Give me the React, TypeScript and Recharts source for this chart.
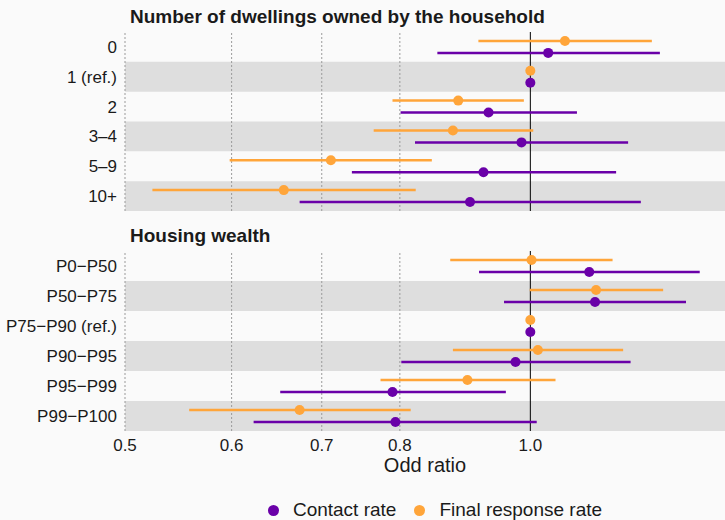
import React from 'react';
import {
  ScatterChart, Scatter, XAxis, YAxis, ErrorBar, ReferenceArea, ReferenceLine,
} from 'recharts';

const dwellLabels = ['0', '1 (ref.)', '2', '3–4', '5–9', '10+'];
const dwellContact = [1.031, 1.0, 0.931, 0.985, 0.923, 0.902];
const dwellContactLo = [0.853, 1.0, 0.801, 0.821, 0.737, 0.674];
const dwellContactHi = [1.248, 1.0, 1.083, 1.182, 1.158, 1.208];
const dwellResponse = [1.061, 1.0, 0.884, 0.876, 0.711, 0.656];
const dwellResponseLo = [0.915, 1.0, 0.79, 0.765, 0.598, 0.524];
const dwellResponseHi = [1.231, 1.0, 0.989, 1.005, 0.845, 0.822];

const wealthLabels = ['P0−P50', 'P50−P75', 'P75−P90 (ref.)', 'P90−P95', 'P95−P99', 'P99−P100'];
const wealthContact = [1.106, 1.117, 1.0, 0.975, 0.79, 0.794];
const wealthContactLo = [0.916, 0.956, 1.0, 0.802, 0.652, 0.623];
const wealthContactHi = [1.336, 1.305, 1.0, 1.187, 0.959, 1.011];
const wealthResponse = [1.002, 1.119, 1.0, 1.013, 0.898, 0.674];
const wealthResponseLo = [0.872, 0.999, 1.0, 0.876, 0.774, 0.558];
const wealthResponseHi = [1.151, 1.255, 1.0, 1.172, 1.044, 0.815];

const xTicks = [0.5, 0.6, 0.7, 0.8, 1.0];
const gridTicks = [0.5, 0.6, 0.7, 0.8];
const seriesNames = ['Contact rate', 'Final response rate'];

const PURPLE = '#6a00a8';
const ORANGE = '#ffa53a';
const TEXT = '#1a1a1a';
const FONT = '"Liberation Sans", Arial, sans-serif';
const X_DOMAIN: [number, number] = [0.5, 1.395];

function build(est: number[], lo: number[], hi: number[], dodge: number) {
  return est.map((v, i) => ({
    x: v,
    y: i + 1 + dodge,
    err: [v - lo[i], hi[i] - v],
  }));
}

const dot = (color: string) => (props: any) => (
  <circle cx={props.cx} cy={props.cy} r={5} fill={color} />
);

function Panel(props: {
  labels: string[];
  contact: number[]; contactLo: number[]; contactHi: number[];
  response: number[]; responseLo: number[]; responseHi: number[];
  height: number; top: number; bottom: number; showX: boolean;
}) {
  const contactData = build(props.contact, props.contactLo, props.contactHi, 0.2);
  const responseData = build(props.response, props.responseLo, props.responseHi, -0.2);
  const n = props.labels.length;
  const rows = props.labels.map((_, i) => i + 1);
  return (
    <ScatterChart
      width={725}
      height={props.height}
      margin={{ top: props.top, right: 0, bottom: props.bottom, left: 0 }}
    >
      <XAxis
        type="number"
        dataKey="x"
        scale="log"
        domain={X_DOMAIN}
        allowDataOverflow
        ticks={xTicks}
        tickFormatter={(v: number) => v.toFixed(1)}
        axisLine={false}
        tickLine={false}
        hide={!props.showX}
        height={89}
        tick={{ fill: TEXT, fontSize: 17, fontFamily: FONT }}
        label={{ value: 'Odd ratio', position: 'insideTop', offset: 27, fill: TEXT, fontSize: 20, fontFamily: FONT }}
      />
      <YAxis
        type="number"
        dataKey="y"
        domain={[0.5, n + 0.5]}
        reversed
        ticks={rows}
        interval={0}
        tickFormatter={(v: number) => props.labels[v - 1] ?? ''}
        axisLine={false}
        tickLine={false}
        width={125}
        tick={{ fill: TEXT, fontSize: 17, fontFamily: FONT }}
      />
      {rows.filter((r) => r % 2 === 0).map((r) => (
        <ReferenceArea key={'b' + r} y1={r - 0.5} y2={r + 0.5} fill="#dedede" fillOpacity={1} stroke="none" />
      ))}
      {gridTicks.map((t) => (
        <ReferenceLine key={'g' + t} x={t} stroke="#9a9a9a" strokeDasharray="2 2" strokeWidth={1} />
      ))}
      <ReferenceLine x={1} stroke="#000" strokeWidth={1} />
      <Scatter name={seriesNames[0]} data={contactData} fill={PURPLE} shape={dot(PURPLE)} isAnimationActive={false}>
        <ErrorBar dataKey="err" direction="x" width={0} stroke={PURPLE} strokeWidth={2.5} isAnimationActive={false} />
      </Scatter>
      <Scatter name={seriesNames[1]} data={responseData} fill={ORANGE} shape={dot(ORANGE)} isAnimationActive={false}>
        <ErrorBar dataKey="err" direction="x" width={0} stroke={ORANGE} strokeWidth={2.5} isAnimationActive={false} />
      </Scatter>
    </ScatterChart>
  );
}

export default function App() {
  const titleStyle: React.CSSProperties = {
    position: 'absolute', left: 130, fontWeight: 'bold', fontSize: 19,
    color: TEXT, fontFamily: FONT, lineHeight: '22px', whiteSpace: 'nowrap',
  };
  return (
    <div style={{ position: 'absolute', left: 0, top: 0, width: 725, height: 520, background: '#fafafa', overflow: 'hidden', fontFamily: FONT }}>
      <div style={{ position: 'absolute', left: 0, top: 0 }}>
        <Panel
          labels={dwellLabels}
          contact={dwellContact} contactLo={dwellContactLo} contactHi={dwellContactHi}
          response={dwellResponse} responseLo={dwellResponseLo} responseHi={dwellResponseHi}
          height={211} top={32} bottom={0} showX={false}
        />
      </div>
      <div style={{ position: 'absolute', left: 0, top: 220 }}>
        <Panel
          labels={wealthLabels}
          contact={wealthContact} contactLo={wealthContactLo} contactHi={wealthContactHi}
          response={wealthResponse} responseLo={wealthResponseLo} responseHi={wealthResponseHi}
          height={300} top={31} bottom={0} showX={true}
        />
      </div>
      <div style={{ ...titleStyle, top: 6 }}>Number of dwellings owned by the household</div>
      <div style={{ ...titleStyle, top: 225 }}>Housing wealth</div>
      <div style={{ position: 'absolute', top: 499, left: 135, width: 600, display: 'flex', justifyContent: 'center', alignItems: 'center', fontSize: 19, color: TEXT, lineHeight: '22px' }}>
        {seriesNames.map((name, i) => (
          <div key={name} style={{ display: 'flex', alignItems: 'center', marginRight: i === 0 ? 18 : 0 }}>
            <span style={{ display: 'inline-block', width: 11, height: 11, borderRadius: '50%', background: i === 0 ? PURPLE : ORANGE, marginRight: 14 }} />
            <span>{name}</span>
          </div>
        ))}
      </div>
    </div>
  );
}
